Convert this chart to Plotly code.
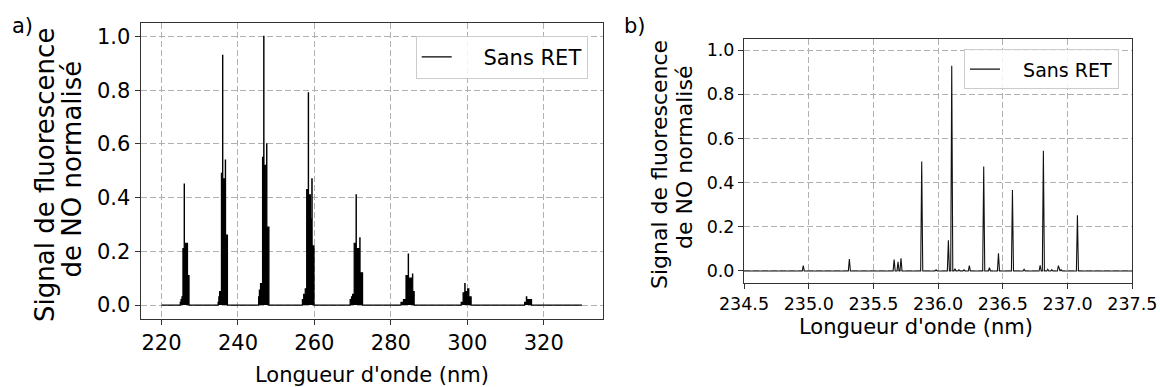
import plotly.graph_objects as go

# ---------------- data ----------------
# Panel a: NO fluorescence spectrum (step envelope of the dense bands)
a_wl = [220.0,
        224.9, 225.1, 225.35, 225.6, 225.93, 225.99, 226.8, 227.2,
        234.8, 235.0, 235.2, 235.67, 235.97, 236.03, 236.69, 236.75, 237.25,
        245.4, 245.6, 245.9, 246.43, 246.74, 246.8, 247.3, 247.5, 247.56, 248.1,
        256.85, 257.2, 257.6, 257.98, 258.4, 258.46, 258.95, 259.33, 259.4, 259.9,
        269.35, 269.7, 270.0, 270.4, 270.9, 270.96, 271.88, 271.94, 272.6,
        282.65, 283.3, 283.96, 284.55, 284.61, 285.66, 285.72, 286.1,
        298.4, 298.9, 299.35, 299.42, 300.1, 300.4, 301.0,
        315.0, 315.45, 315.55, 316.8,
        330.0]
a_sig = [0.0,
         0.01, 0.02, 0.03, 0.21, 0.45, 0.23, 0.11, 0.0,
         0.01, 0.03, 0.05, 0.49, 0.93, 0.47, 0.54, 0.26, 0.0,
         0.03, 0.056, 0.08, 0.55, 1.0, 0.52, 0.41, 0.60, 0.29, 0.0,
         0.02, 0.04, 0.06, 0.43, 0.79, 0.41, 0.32, 0.47, 0.22, 0.0,
         0.02, 0.03, 0.04, 0.23, 0.41, 0.21, 0.25, 0.12, 0.0,
         0.01, 0.02, 0.11, 0.19, 0.10, 0.115, 0.05, 0.0,
         0.01, 0.045, 0.08, 0.05, 0.06, 0.03, 0.0,
         0.01, 0.03, 0.02, 0.0,
         0.0]

# Panel b: zoom 234.5-237.5 nm, individual lines (position, height)
b_peak_wl = [234.958, 235.314, 235.660, 235.690, 235.713, 235.873, 235.984,
             236.079, 236.105, 236.130, 236.161, 236.200, 236.241, 236.352,
             236.396, 236.466, 236.574, 236.664, 236.788, 236.813, 236.847,
             236.878, 236.929, 236.950, 237.076]
b_peak_sig = [0.024, 0.054, 0.052, 0.041, 0.058, 0.496, 0.005,
              0.139, 0.929, 0.010, 0.005, 0.005, 0.024, 0.473,
              0.015, 0.080, 0.367, 0.008, 0.026, 0.544, 0.008,
              0.006, 0.024, 0.006, 0.252]
b_range = [234.5, 237.5]

a_xticks = [220, 240, 260, 280, 300, 320]
b_xticks = [234.5, 235.0, 235.5, 236.0, 236.5, 237.0, 237.5]
y_ticks = [0.0, 0.2, 0.4, 0.6, 0.8, 1.0]

legend_label = "Sans RET"
x_title = "Longueur d'onde (nm)"
y_title_1 = "Signal de fluorescence"
y_title_2 = "de NO normalisé"

# ---------------- build stick spectrum for panel b ----------------
LINE_HALF_WIDTH = 0.008
b_x, b_y = [b_range[0]], [0.0]
for p, h in zip(b_peak_wl, b_peak_sig):
    b_x += [p - LINE_HALF_WIDTH, p, p + LINE_HALF_WIDTH]
    b_y += [0.0, h, 0.0]
b_x.append(b_range[1])
b_y.append(0.0)

# ---------------- figure ----------------
W, H = 1160, 387
FONT = "DejaVu Sans"
NBSP = "\u00a0"


def fx(p):
    return p / W


def fy(p):
    return 1 - p / H


fig = go.Figure()
fig.add_trace(go.Scatter(x=a_wl, y=a_sig, mode="lines",
                         line=dict(shape="hv", width=0, color="black"),
                         fill="tozeroy", fillcolor="black",
                         showlegend=False, hoverinfo="skip",
                         xaxis="x", yaxis="y"))
fig.add_trace(go.Scatter(x=a_wl, y=a_sig, mode="lines",
                         line=dict(shape="hv", width=1.2, color="black"),
                         name=NBSP * 4 + legend_label, legend="legend",
                         xaxis="x", yaxis="y"))
fig.add_trace(go.Scatter(x=b_x, y=b_y, mode="lines",
                         line=dict(width=1.1, color="#111111"),
                         name=NBSP * 3 + legend_label, legend="legend2",
                         xaxis="x2", yaxis="y2"))

common = dict(showline=True, mirror=True, linecolor="#333333", linewidth=1,
              ticks="outside", ticklen=5, tickcolor="#333333", tickwidth=1,
              showgrid=True, gridcolor="#b0b0b0", griddash="6px,3px", gridwidth=1,
              zeroline=False, automargin=False)

fig.update_layout(
    template="none",
    width=W, height=H,
    margin=dict(l=0, r=0, t=0, b=0, pad=0),
    paper_bgcolor="white", plot_bgcolor="white",
    font=dict(family=FONT, color="black"),
    xaxis=dict(domain=[fx(140.5), fx(603)], range=[214.5, 335.5],
               tickvals=a_xticks, anchor="y",
               tickfont=dict(family=FONT, size=21, color="black"), **common),
    yaxis=dict(domain=[fy(319), fy(23)], range=[-0.052, 1.05],
               tickvals=y_ticks, tickformat=".1f", anchor="x",
               tickfont=dict(family=FONT, size=21, color="black"), **common),
    xaxis2=dict(domain=[fx(744), fx(1132.3)], range=b_range,
                tickvals=b_xticks, tickformat=".1f", anchor="y2",
                tickfont=dict(family=FONT, size=17.5, color="black"), **common),
    yaxis2=dict(domain=[fy(282.7), fy(39)], range=[-0.053, 1.05],
                tickvals=y_ticks, tickformat=".1f", anchor="x2",
                tickfont=dict(family=FONT, size=17.5, color="black"), **common),
    legend=dict(x=fx(415.7), y=fy(35.7), xanchor="left", yanchor="top",
                bgcolor="rgba(255,255,255,0.85)", bordercolor="#cccccc",
                borderwidth=1, font=dict(family=FONT, size=21, color="black")),
    legend2=dict(x=fx(964), y=fy(49.3), xanchor="left", yanchor="top",
                 bgcolor="rgba(255,255,255,0.85)", bordercolor="#cccccc",
                 borderwidth=1, font=dict(family=FONT, size=19, color="black")),
    showlegend=True,
)

ann = []


def add_text(text, x, y, size, angle=0):
    ann.append(dict(text=text, x=fx(x), y=fy(y), xref="paper", yref="paper",
                    xanchor="center", yanchor="middle", showarrow=False,
                    textangle=angle, font=dict(family=FONT, size=size, color="black")))


add_text("a)", 22.5, 25.5, 21)
add_text("b)", 634.7, 25.8, 21)
add_text(x_title, 372, 374.5, 21)
add_text(x_title, 915.5, 327, 21)
add_text(y_title_1, 45.5, 175.5, 26, -90)
add_text(y_title_2, 71.5, 169, 26, -90)
add_text(y_title_1, 659, 165, 22, -90)
add_text(y_title_2, 684.5, 157.5, 22, -90)
fig.update_layout(annotations=ann)

fig.write_html("out.html",
               config={"displayModeBar": False},
               post_script="document.body.style.margin='0';"
                           "document.body.style.overflow='hidden';")
